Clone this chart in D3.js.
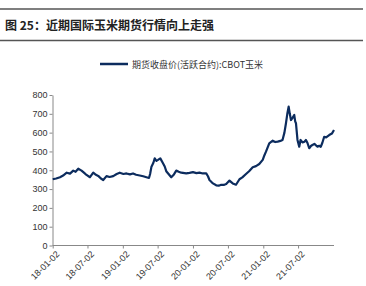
<!DOCTYPE html>
<html>
<head>
<meta charset="utf-8">
<script src="https://cdn.jsdelivr.net/npm/d3@7"></script>
<style>
  body { margin: 0; background: #fff; }
  svg { display: block; }
</style>
</head>
<body>
<div id="chart-area"></div>
<script>
// chart text
const title = "图 25：近期国际玉米期货行情向上走强";
const seriesName = "期货收盘价(活跃合约):CBOT玉米";

// data
const dates = [
  "2018-01-02","2018-01-20","2018-02-09","2018-02-25","2018-03-16","2018-04-02","2018-04-19","2018-05-01",
  "2018-05-15","2018-06-01","2018-06-15","2018-06-27","2018-07-15","2018-08-01","2018-08-15","2018-08-27",
  "2018-09-10","2018-09-22","2018-10-09","2018-10-25","2018-11-13","2018-12-01","2018-12-17","2019-01-05",
  "2019-01-21","2019-02-08","2019-02-24","2019-03-12","2019-03-31","2019-04-18","2019-05-05","2019-05-18",
  "2019-05-24","2019-05-31","2019-06-10","2019-06-17","2019-06-26","2019-07-04","2019-07-16","2019-07-30",
  "2019-08-08","2019-08-16","2019-08-28","2019-09-11","2019-09-25","2019-10-07","2019-10-20","2019-11-02",
  "2019-11-28","2019-12-15","2020-01-02","2020-01-20","2020-02-05","2020-02-22","2020-03-11","2020-03-20",
  "2020-03-28","2020-04-15","2020-05-02","2020-05-15","2020-05-28","2020-06-10","2020-06-23","2020-07-10",
  "2020-07-27","2020-08-13","2020-08-31","2020-09-15","2020-10-04","2020-10-20","2020-11-08","2020-11-25",
  "2020-12-12","2020-12-30","2021-01-08","2021-01-16","2021-02-02","2021-02-20","2021-03-05","2021-03-18",
  "2021-04-01","2021-04-12","2021-04-22","2021-04-30","2021-05-07","2021-05-14","2021-05-20","2021-05-26",
  "2021-06-04","2021-06-12","2021-06-17","2021-06-21","2021-06-29","2021-07-08","2021-07-15","2021-07-25",
  "2021-08-04","2021-08-12","2021-08-20","2021-08-29","2021-09-08","2021-09-15","2021-09-25","2021-10-11",
  "2021-10-20","2021-10-28","2021-11-05","2021-11-15","2021-11-25","2021-12-11","2021-12-25","2022-01-05"
];
const prices = [
  352, 356, 363, 372, 387, 382, 398, 392,
  408, 398, 386, 375, 363, 387, 376, 370,
  356, 348, 369, 364, 369, 380, 387, 380,
  383, 378, 383, 376, 372, 368, 363, 359,
  380, 419, 440, 463, 450, 455, 463, 437,
  420, 395, 380, 363, 378, 398, 392, 387,
  383, 386, 390, 385, 387, 383, 383, 368,
  348, 330, 320, 318, 323, 322, 327, 345,
  330, 323, 352, 362, 380, 395, 416, 422,
  433, 455, 480, 499, 543, 557, 550, 552,
  556, 561, 600, 650, 700, 738, 700, 667,
  680, 694, 660, 650, 561, 525, 561, 548,
  552, 561, 545, 517, 530, 534, 540, 525,
  530, 525, 545, 578, 575, 587, 595, 614
];
const yTicks = [0, 100, 200, 300, 400, 500, 600, 700, 800];
const xTicks = ["2018-01-02","2018-07-02","2019-01-02","2019-07-02","2020-01-02","2020-07-02","2021-01-02","2021-07-02"];

const W = 366, H = 286;
const lineColor = "#0c2c5e";
const parse = d3.timeParse("%Y-%m-%d");
const data = dates.map(function(d, i){ return { date: parse(d), value: prices[i] }; });

const svg = d3.select("#chart-area").append("svg")
    .attr("width", W)
    .attr("height", H);

// title block with rules above and below
svg.append("line").attr("x1", 0).attr("x2", 363).attr("y1", 9).attr("y2", 9)
    .attr("stroke", "#555").attr("stroke-width", 1.5);
svg.append("line").attr("x1", 0).attr("x2", 363).attr("y1", 40.5).attr("y2", 40.5)
    .attr("stroke", "#555").attr("stroke-width", 1.5);
svg.append("text")
    .attr("x", 5).attr("y", 30)
    .attr("font-family", "'Noto Sans CJK SC', sans-serif")
    .attr("font-size", "12px")
    .attr("font-weight", "bold")
    .attr("fill", "#222")
    .text(title);

// legend
svg.append("line").attr("x1", 100).attr("x2", 128).attr("y1", 64).attr("y2", 64)
    .attr("stroke", lineColor).attr("stroke-width", 2.5);
svg.append("text")
    .attr("x", 132).attr("y", 67.5)
    .attr("font-family", "'Noto Sans CJK SC', sans-serif")
    .attr("font-size", "9px")
    .attr("fill", "#333")
    .text(seriesName);

// scales
const x = d3.scaleTime()
    .domain([parse("2018-01-02"), parse("2022-01-05")])
    .range([52.7, 334]);
const y = d3.scaleLinear()
    .domain([0, 800])
    .range([245.5, 95]);

// y axis
const yAxis = svg.append("g")
    .attr("transform", "translate(52.5,0)")
    .call(d3.axisLeft(y).tickValues(yTicks).tickSize(3).tickSizeOuter(0));
yAxis.selectAll("text")
    .attr("font-family", "'Liberation Sans', Arial, sans-serif")
    .attr("font-size", "9px")
    .attr("fill", "#333")
    .attr("x", -5);
yAxis.selectAll("line, path").attr("stroke", "#888");

// x axis
const xAxis = svg.append("g")
    .attr("transform", "translate(0,245.5)")
    .call(d3.axisBottom(x).tickValues(xTicks.map(parse)).tickFormat(d3.timeFormat("%y-%m-%d")).tickSize(3).tickSizeOuter(0));
xAxis.select(".domain").attr("d", "M52.7,0H334");
xAxis.selectAll("line, path").attr("stroke", "#888");
xAxis.selectAll("text")
    .attr("font-family", "'Liberation Sans', Arial, sans-serif")
    .attr("font-size", "9px")
    .attr("fill", "#333")
    .style("text-anchor", "end")
    .attr("dx", "-0.2em")
    .attr("dy", "0.6em")
    .attr("transform", "rotate(-45)");

// the price line
const line = d3.line()
    .x(function(d){ return x(d.date); })
    .y(function(d){ return y(d.value); });

svg.append("path")
    .datum(data)
    .attr("fill", "none")
    .attr("stroke", lineColor)
    .attr("stroke-width", 2.2)
    .attr("stroke-linejoin", "round")
    .attr("d", line);
</script>
</body>
</html>
